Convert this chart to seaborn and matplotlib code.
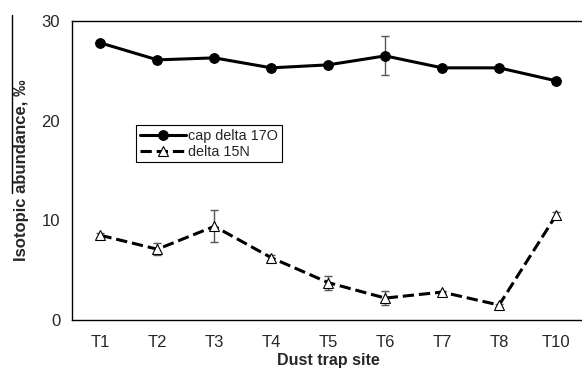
import seaborn as sns
import pandas as pd
import numpy as np
import matplotlib.pyplot as plt
from matplotlib.lines import Line2D

sites = ["T1", "T2", "T3", "T4", "T5", "T6", "T7", "T8", "T10"]
cap_d17o = [27.8, 26.1, 26.3, 25.3, 25.6, 26.5, 25.3, 25.3, 24.0]
cap_d17o_err = [0.2, 0.3, 0.2, 0.3, 0.3, 1.95, 0.15, 0.15, 0.3]
d15n = [8.5, 7.1, 9.4, 6.25, 3.75, 2.2, 2.8, 1.5, 10.5]
d15n_err = [0.2, 0.6, 1.6, 0.25, 0.7, 0.72, 0.15, 0.15, 0.3]

df = pd.DataFrame({"site": sites, "d17o": cap_d17o, "d17o_err": cap_d17o_err,
                   "d15n": d15n, "d15n_err": d15n_err})

sns.set_style("white")
plt.rcParams['font.family'] = ['Liberation Sans', 'DejaVu Sans']

fig = plt.figure(figsize=(5.82, 3.72), dpi=100)
ax = fig.add_axes([72 / 582, 52 / 372, 512.5 / 582, 299 / 372])

pos = np.arange(len(sites))
ax.errorbar(pos, df["d17o"], yerr=df["d17o_err"], fmt="none", ecolor="#555555",
            elinewidth=1, capsize=3, capthick=1, zorder=1)
ax.errorbar(pos, df["d15n"], yerr=df["d15n_err"], fmt="none", ecolor="#555555",
            elinewidth=1, capsize=3, capthick=1, zorder=1)

sns.lineplot(x=pos, y=df["d17o"], ax=ax, color="black", lw=2.2, marker="o",
             markersize=7, markeredgecolor="black", label="cap delta 17O", zorder=3)
sns.lineplot(x=pos, y=df["d15n"], ax=ax, color="black", lw=2.2, linestyle="--",
             dashes=(3, 2), marker="^", markersize=6.5, markerfacecolor="white",
             markeredgecolor="black", markeredgewidth=0.8, label="delta 15N", zorder=3)

ax.set_xlim(-0.5, 8.5)
ax.set_ylim(0, 30)
ax.set_xticks(pos)
ax.set_xticklabels(sites)
ax.set_xticks(np.arange(0.5, 8, 1), minor=True)
ax.tick_params(axis="x", which="major", length=0, labelsize=12, pad=11)
ax.tick_params(axis="x", which="minor", direction="in", length=5, width=1)
ax.set_yticks([0, 10, 20, 30])
ax.set_yticks(np.arange(2, 30, 2), minor=True)
ax.tick_params(axis="y", which="major", direction="out", length=5, width=1, labelsize=12)
ax.tick_params(axis="y", which="minor", direction="in", length=4, width=1)

for s in ax.spines.values():
    s.set_color("black")
    s.set_linewidth(1)

ax.set_xlabel("Dust trap site", fontsize=11.5, fontweight="bold", labelpad=2)
ax.set_ylabel("Isotopic abundance, \u2030", fontsize=12, fontweight="bold",
              labelpad=9)

leg = ax.legend(loc="upper left", bbox_to_anchor=(0.125, 0.652), borderaxespad=0,
                fontsize=10.4, handlelength=3.2, handletextpad=0.15, fancybox=False,
                framealpha=1, borderpad=0.25, labelspacing=0.15)
leg.get_frame().set_edgecolor("black")
leg.get_frame().set_linewidth(0.8)

fig.add_artist(Line2D([12 / 582, 12 / 582], [1 - 15 / 372, 1 - 193 / 372],
                      color="black", lw=1))

fig.savefig("out.png", dpi=100)
